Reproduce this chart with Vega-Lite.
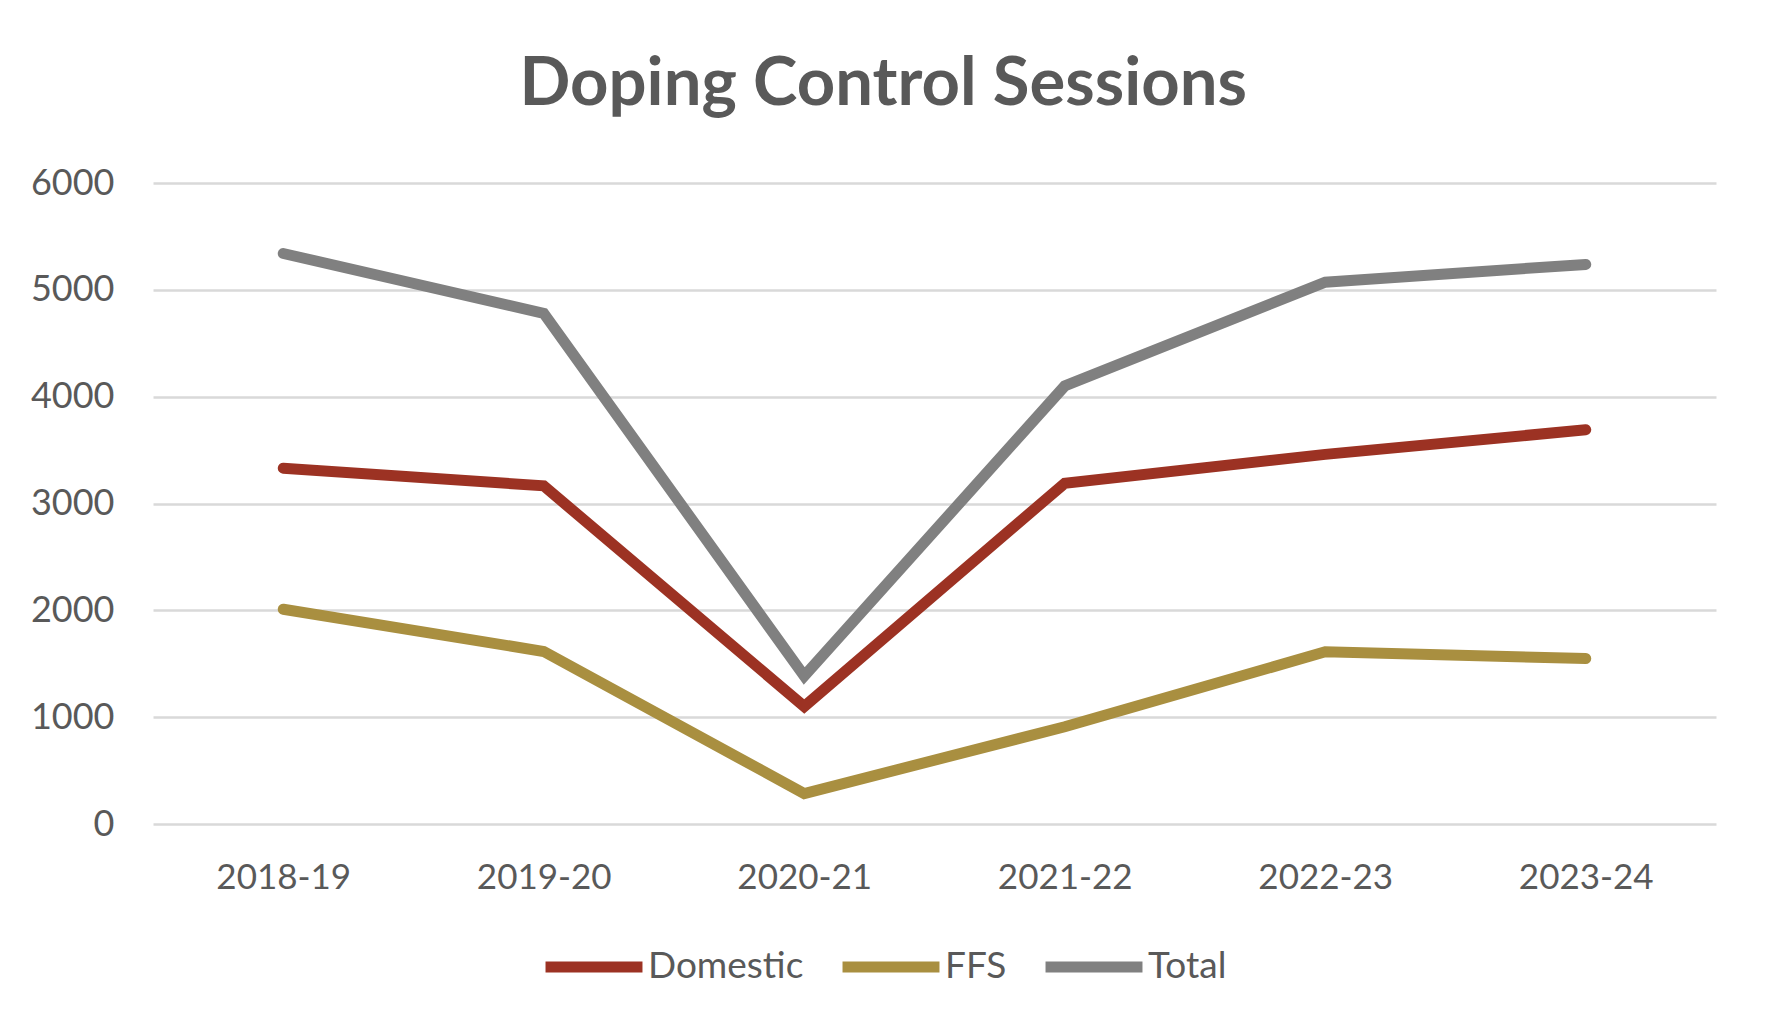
{
  "$schema": "https://vega.github.io/schema/vega-lite/v6.json",
  "width": 1563,
  "height": 641,
  "padding": {"left": 30, "top": 51, "right": 55, "bottom": 10},
  "background": "white",
  "title": {
    "text": "Doping Control Sessions",
    "font": "Lato",
    "fontSize": 67,
    "fontWeight": "bold",
    "color": "#595959",
    "anchor": "middle",
    "frame": "bounds",
    "offset": 46,
    "dx": 10
  },
  "data": {
    "values": [
      {"season": "2018-19", "series": "Domestic", "sessions": 3330},
      {"season": "2019-20", "series": "Domestic", "sessions": 3165},
      {"season": "2020-21", "series": "Domestic", "sessions": 1100},
      {"season": "2021-22", "series": "Domestic", "sessions": 3190},
      {"season": "2022-23", "series": "Domestic", "sessions": 3460},
      {"season": "2023-24", "series": "Domestic", "sessions": 3690},
      {"season": "2018-19", "series": "FFS", "sessions": 2010},
      {"season": "2019-20", "series": "FFS", "sessions": 1615},
      {"season": "2020-21", "series": "FFS", "sessions": 285},
      {"season": "2021-22", "series": "FFS", "sessions": 910},
      {"season": "2022-23", "series": "FFS", "sessions": 1612},
      {"season": "2023-24", "series": "FFS", "sessions": 1548},
      {"season": "2018-19", "series": "Total", "sessions": 5340},
      {"season": "2019-20", "series": "Total", "sessions": 4780},
      {"season": "2020-21", "series": "Total", "sessions": 1385},
      {"season": "2021-22", "series": "Total", "sessions": 4100},
      {"season": "2022-23", "series": "Total", "sessions": 5072},
      {"season": "2023-24", "series": "Total", "sessions": 5238}
    ]
  },
  "mark": {"type": "line", "strokeWidth": 11, "strokeCap": "round", "strokeJoin": "miter"},
  "encoding": {
    "x": {
      "field": "season",
      "type": "ordinal",
      "scale": {"type": "point", "padding": 0.5},
      "axis": {
        "title": null,
        "labelAngle": 0,
        "labelFont": "Lato",
        "labelFontSize": 35,
        "labelColor": "#595959",
        "labelPadding": 36,
        "ticks": false,
        "domain": false,
        "grid": false
      }
    },
    "y": {
      "field": "sessions",
      "type": "quantitative",
      "scale": {"domain": [0, 6000], "nice": false},
      "axis": {
        "title": null,
        "values": [0, 1000, 2000, 3000, 4000, 5000, 6000],
        "format": "d",
        "labelFont": "Lato",
        "labelFontSize": 36,
        "labelColor": "#595959",
        "labelPadding": 39,
        "ticks": false,
        "domain": false,
        "grid": true,
        "gridColor": "#D9D9D9",
        "gridWidth": 2.5
      }
    },
    "color": {
      "field": "series",
      "type": "nominal",
      "scale": {
        "domain": ["Domestic", "FFS", "Total"],
        "range": ["#9C3223", "#A98F40", "#808080"]
      },
      "legend": {
        "title": null,
        "orient": "none",
        "legendX": 387,
        "legendY": 730,
        "direction": "horizontal",
        "symbolType": "stroke",
        "symbolSize": 9400,
        "symbolStrokeWidth": 11,
        "labelFont": "Lato",
        "labelFontSize": 37,
        "labelColor": "#595959",
        "labelOffset": 0,
        "columnPadding": 16
      }
    }
  },
  "config": {
    "view": {"stroke": null}
  }
}
